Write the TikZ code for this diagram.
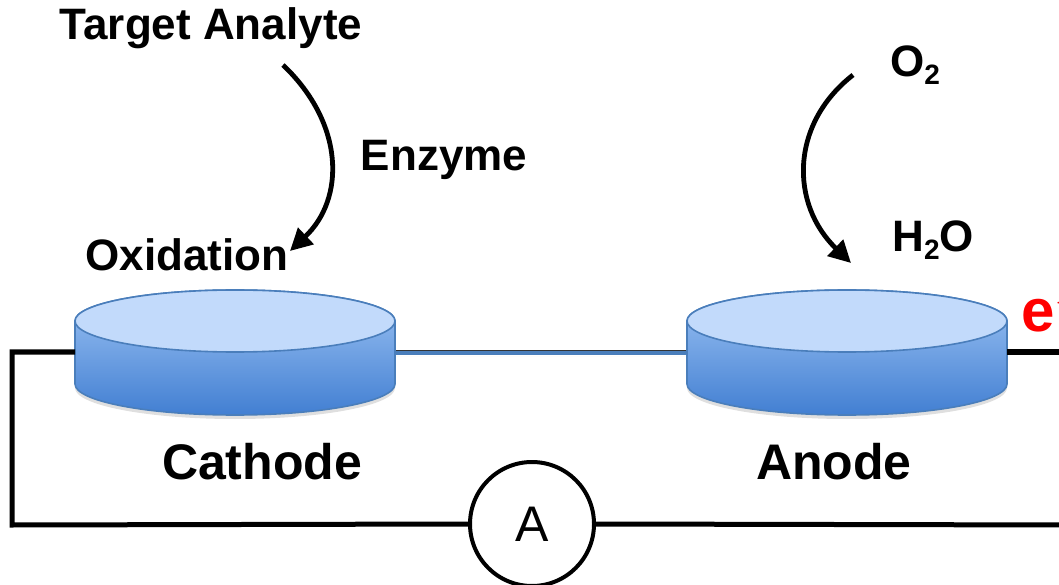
\documentclass[tikz,border=0pt]{standalone}
\usepackage{fontspec}
\setmainfont{Liberation Sans}
\usetikzlibrary{positioning, arrows.meta, shadows}
\definecolor{diskline}{HTML}{4A7EBB}
\definecolor{disktop}{HTML}{C2DAFB}
\definecolor{diskhi}{HTML}{9EC4F4}
\definecolor{disklo}{HTML}{427FD2}
\newcommand{\chemsub}[1]{\raisebox{-0.35ex}{\fontsize{14}{16}\selectfont #1}}
\tikzset{
    lbl/.style={font=\fontsize{22}{26}\selectfont\bfseries, inner sep=0pt},
    elec/.style={font=\fontsize{25}{30}\selectfont\bfseries, inner sep=0pt},
    wire/.style={line width=2.5pt, black},
    link/.style={line width=2.4pt, diskline},
    flow/.style={line width=2.4pt, -{Triangle[length=11pt, width=11pt]}},
    meter/.style={circle, draw, line width=2pt, fill=white, minimum size=62pt, inner sep=0pt, font=\fontsize{25}{30}\selectfont},
    pics/disk/.style={code={
        % side of the disk, then its top face
        \path[drop shadow={opacity=0.25, shadow xshift=0pt, shadow yshift=-2pt},
              top color=diskhi, bottom color=disklo, draw=diskline, line width=0.8pt]
            (-160,0) -- (-160,-63) arc[start angle=180, end angle=360, x radius=80pt, y radius=15.5pt]
            -- (160,0) arc[start angle=0, end angle=180, x radius=80pt, y radius=15.5pt] -- cycle;
        \draw[fill=disktop, draw=diskline, line width=0.8pt] (0,0) ellipse[x radius=80pt, y radius=15.5pt];
        \coordinate (-west) at (-160,-31);
        \coordinate (-east) at (160,-31);
    }}
}

\begin{document}
\begin{tikzpicture}[x=0.5pt, y=0.5pt]
    \useasboundingbox (0,0) rectangle (1059,584);

    % bar joining the electrodes, drawn below them
    \coordinate (barL) at (390,231);
    \coordinate (barR) at (692,231);
    \draw[link, drop shadow={opacity=0.2, shadow xshift=0pt, shadow yshift=-1.5pt}] (barL) -- (barR);
    \draw[line width=0.6pt, black!80] ([yshift=1.4pt]barL) -- ([yshift=1.4pt]barR);

    % the two electrodes
    \pic (cath) at (235,263) {disk};
    \pic (anod) at (847,263) {disk};

    \node (ammeter) [meter] at (532,60) {A};

    % circuit
    \coordinate (cornerA) at (12,232);
    \coordinate (cornerB) at (12,59);
    \coordinate (outA) at (1075,232);
    \coordinate (outB) at (1075,59);
    \draw[wire] (cath-west) -- (cornerA) -- (cornerB) -- (ammeter.west);
    \draw[wire] (ammeter.east) -- (outB);
    \draw[wire] (anod-east) -- (outA);

    % labels
    \node (target) [lbl] at (211,556) {Target Analyte};
    \node (enzyme) [lbl] at (444,424) {Enzyme};
    \node (oxid) [lbl] at (187,329) {Oxidation};
    \node (otwo) [lbl] at (915,519) {O\chemsub{2}};
    \node (water) [lbl] at (933,344) {H\chemsub{2}O};
    \node (cathode) [elec] at (262,122) {Cathode};
    \node (anode) [elec] at (834,122) {Anode};
    \node (electron) [font=\fontsize{30}{34}\selectfont\bfseries, text=red, inner sep=0pt, anchor=west] at (1021,273) {e\textsuperscript{$-$}};

    % reaction arrows
    \coordinate (tgtEnd) at (283,519);
    \coordinate (oxEnd) at (290,333);
    \coordinate (oxStart) at (853,509);
    \coordinate (waterEnd) at (851,321);
    \draw[flow] (tgtEnd) .. controls (345,460) and (345,385) .. (oxEnd);
    \draw[flow] (oxStart) .. controls (790,460) and (790,380) .. (waterEnd);
\end{tikzpicture}
\end{document}
